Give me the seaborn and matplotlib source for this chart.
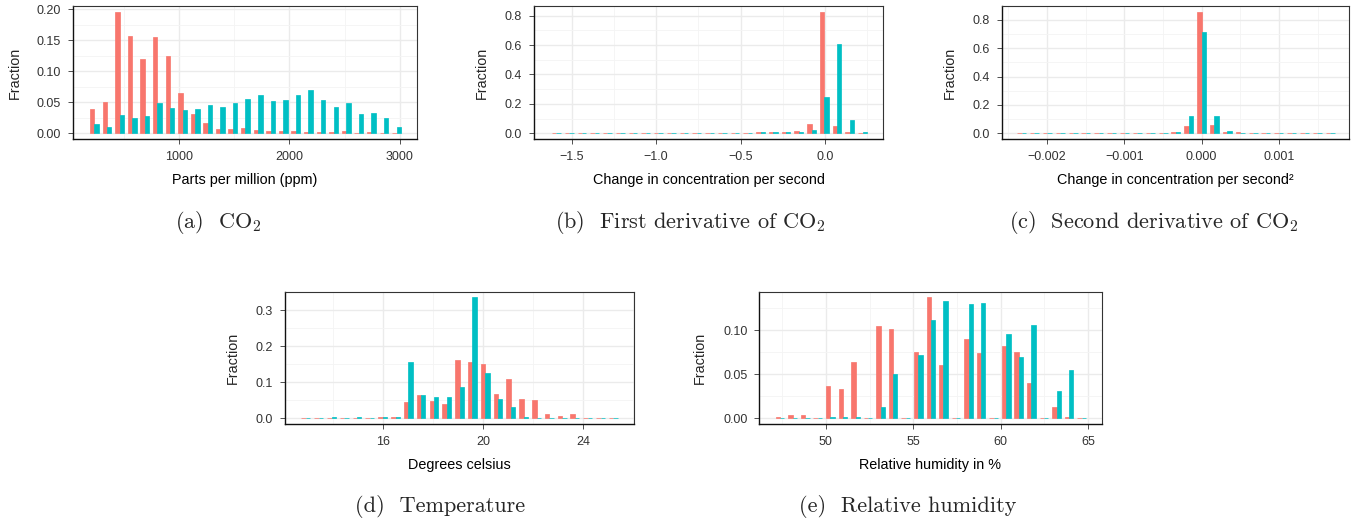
import numpy as np
import pandas as pd
import matplotlib
matplotlib.use("Agg")
import matplotlib.pyplot as plt
from matplotlib.ticker import FixedLocator, FuncFormatter
import seaborn as sns

# ---------------- data ----------------
series_names = ["Group 1", "Group 2"]
palette = ["#F8766D", "#00BFC4"]

co2_centers = [234, 348, 462, 576, 690, 804, 918, 1032, 1146, 1260, 1374, 1488, 1602,
               1716, 1830, 1944, 2058, 2172, 2286, 2400, 2514, 2628, 2742, 2856, 2970]
co2_red = [0.039, 0.050, 0.196, 0.157, 0.120, 0.155, 0.125, 0.065, 0.031, 0.017, 0.007,
           0.007, 0.008, 0.005, 0.003, 0.004, 0.004, 0.002, 0.002, 0.002, 0.004, 0.001,
           0.002, 0.001, 0.001]
co2_teal = [0.015, 0.010, 0.030, 0.025, 0.028, 0.049, 0.041, 0.038, 0.039, 0.046, 0.042,
            0.049, 0.055, 0.062, 0.052, 0.054, 0.062, 0.070, 0.054, 0.042, 0.049, 0.031,
            0.033, 0.025, 0.010]

d1_centers = [-1.590, -1.515, -1.439, -1.364, -1.288, -1.213, -1.137, -1.062, -0.986,
              -0.911, -0.835, -0.760, -0.684, -0.609, -0.533, -0.458, -0.382, -0.307,
              -0.231, -0.156, -0.080, -0.005, 0.071, 0.147, 0.222]
d1_red = [0, 0, 0, 0, 0, 0, 0, 0, 0, 0, 0, 0, 0, 0, 0, 0, 0.006, 0.008, 0.008, 0.015,
          0.063, 0.825, 0.048, 0.009, 0.002]
d1_teal = [0, 0, 0, 0, 0, 0, 0, 0, 0, 0, 0, 0, 0, 0, 0, 0, 0.006, 0.008, 0.008, 0.010,
           0.022, 0.245, 0.608, 0.091, 0.007]

d2_centers = [-0.002330, -0.002163, -0.001997, -0.001830, -0.001664, -0.001498, -0.001331,
              -0.001165, -0.000998, -0.000832, -0.000666, -0.000499, -0.000333, -0.000166,
              0.000000, 0.000166, 0.000333, 0.000499, 0.000666, 0.000832, 0.000998,
              0.001165, 0.001331, 0.001498, 0.001664]
d2_red = [0, 0, 0, 0, 0, 0, 0, 0, 0, 0, 0, 0, 0.006, 0.052, 0.854, 0.059, 0.010, 0.006,
          0, 0, 0, 0, 0, 0, 0]
d2_teal = [0, 0, 0, 0, 0, 0, 0, 0, 0, 0, 0, 0, 0.006, 0.122, 0.714, 0.122, 0.016, 0.002,
           0, 0, 0, 0, 0, 0, 0]

temp_centers = [12.90, 13.41, 13.93, 14.44, 14.95, 15.46, 15.98, 16.49, 17.00, 17.51,
                18.03, 18.54, 19.05, 19.56, 20.08, 20.59, 21.10, 21.61, 22.13, 22.64,
                23.15, 23.66, 24.18, 24.69, 25.20]
temp_red = [0, 0, 0, 0, 0, 0, 0.004, 0.004, 0.045, 0.065, 0.048, 0.040, 0.162, 0.156,
            0.151, 0.068, 0.109, 0.054, 0.051, 0.012, 0.0065, 0.012, 0, 0, 0]
temp_teal = [0, 0, 0.004, 0, 0.004, 0, 0.004, 0.004, 0.156, 0.065, 0.060, 0.060, 0.087,
             0.336, 0.126, 0.054, 0.031, 0.004, 0, 0, 0, 0, 0, 0, 0]

hum_centers = [47.39, 48.11, 48.83, 49.54, 50.26, 50.98, 51.70, 52.42, 53.13, 53.85,
               54.57, 55.29, 56.01, 56.72, 57.44, 58.16, 58.88, 59.60, 60.31, 61.03,
               61.75, 62.47, 63.19, 63.90, 64.62]
hum_red = [0.002, 0.004, 0.004, 0, 0.037, 0.033, 0.064, 0, 0.105, 0.1015, 0, 0.075,
           0.138, 0.061, 0, 0.090, 0.074, 0, 0.082, 0.075, 0.040, 0, 0.013, 0.002, 0]
hum_teal = [0, 0, 0, 0, 0.002, 0.002, 0.002, 0, 0.013, 0.050, 0, 0.072, 0.112, 0.133, 0,
            0.130, 0.131, 0, 0.096, 0.070, 0.106, 0, 0.031, 0.055, 0]

xlabels = ["Parts per million (ppm)", "Change in concentration per second",
           "Change in concentration per second\u00b2", "Degrees celsius",
           "Relative humidity in %"]
captions = [r"(a)  CO$_2$", r"(b)  First derivative of CO$_2$",
            r"(c)  Second derivative of CO$_2$", r"(d)  Temperature",
            r"(e)  Relative humidity"]

# ---------------- style ----------------
sns.set_theme(style="white")
plt.rcParams["font.family"] = ["Liberation Sans", "DejaVu Sans"]
plt.rcParams["mathtext.fontset"] = "cm"

W, H = 1363, 519
fig = plt.figure(figsize=(W / 100, H / 100), dpi=100)


def px_axes(left, right, top, bottom):
    return fig.add_axes([left / W, 1 - bottom / H, (right - left) / W, (bottom - top) / H])


panels = [
    dict(c=co2_centers, r=co2_red, t=co2_teal, box=(73, 417, 6, 139.3),
         xlim=(41, 3154), ylim=(-0.0097, 0.2054),
         xmaj=[1000, 2000, 3000], xmin=[500, 1500, 2500], xfmt="{:.0f}",
         ymaj=[0, 0.05, 0.10, 0.15, 0.20], ymin=[0.025, 0.075, 0.125, 0.175], yfmt="{:.2f}",
         ylab_x=15, cap=(218, 222)),
    dict(c=d1_centers, r=d1_red, t=d1_teal, box=(534, 883, 6, 139.3),
         xlim=(-1.723, 0.343), ylim=(-0.041, 0.866),
         xmaj=[-1.5, -1.0, -0.5, 0.0], xmin=[-1.25, -0.75, -0.25, 0.25], xfmt="{:.1f}",
         ymaj=[0, 0.2, 0.4, 0.6, 0.8], ymin=[0.1, 0.3, 0.5, 0.7], yfmt="{:.1f}",
         ylab_x=482, cap=(690, 222)),
    dict(c=d2_centers, r=d2_red, t=d2_teal, box=(1001.7, 1349.3, 6, 139.3),
         xlim=(-0.002587, 0.00191), ylim=(-0.042, 0.897),
         xmaj=[-0.002, -0.001, 0.0, 0.001], xmin=[-0.0025, -0.0015, -0.0005, 0.0005, 0.0015],
         xfmt="{:.3f}",
         ymaj=[0, 0.2, 0.4, 0.6, 0.8], ymin=[0.1, 0.3, 0.5, 0.7], yfmt="{:.1f}",
         ylab_x=950, cap=(1154, 222)),
    dict(c=temp_centers, r=temp_red, t=temp_teal, box=(285, 634.3, 291.7, 424.3),
         xlim=(12.07, 26.04), ylim=(-0.0167, 0.352),
         xmaj=[16, 20, 24], xmin=[14, 18, 22, 26], xfmt="{:.0f}",
         ymaj=[0, 0.1, 0.2, 0.3], ymin=[0.05, 0.15, 0.25], yfmt="{:.1f}",
         ylab_x=233, cap=(440, 506)),
    dict(c=hum_centers, r=hum_red, t=hum_teal, box=(759.3, 1101.7, 291.7, 424.3),
         xlim=(46.2, 65.77), ylim=(-0.0068, 0.144),
         xmaj=[50, 55, 60, 65], xmin=[47.5, 52.5, 57.5, 62.5], xfmt="{:.0f}",
         ymaj=[0, 0.05, 0.10], ymin=[0.025, 0.075, 0.125], yfmt="{:.2f}",
         ylab_x=700, cap=(908, 506)),
]

for i, p in enumerate(panels):
    ax = px_axes(*p["box"])
    df = pd.DataFrame({"center": p["c"], series_names[0]: p["r"], series_names[1]: p["t"]})
    df = df.melt(id_vars="center", var_name="series", value_name="fraction")
    sns.barplot(data=df, x="center", y="fraction", hue="series", hue_order=series_names,
                palette=palette, native_scale=True, dodge=True, width=0.7,
                errorbar=None, legend=False, ax=ax, saturation=1)
    for bar in ax.patches:
        bar.set_edgecolor(bar.get_facecolor())
        bar.set_linewidth(0.5)
    ax.set_xlim(*p["xlim"])
    ax.set_ylim(*p["ylim"])
    ax.xaxis.set_major_locator(FixedLocator(p["xmaj"]))
    ax.xaxis.set_minor_locator(FixedLocator(p["xmin"]))
    ax.yaxis.set_major_locator(FixedLocator(p["ymaj"]))
    ax.yaxis.set_minor_locator(FixedLocator(p["ymin"]))
    xf, yf = p["xfmt"], p["yfmt"]
    ax.xaxis.set_major_formatter(FuncFormatter(lambda v, pos, f=xf: f.format(v + 0.0).replace("-", "\u2212")))
    ax.yaxis.set_major_formatter(FuncFormatter(lambda v, pos, f=yf: f.format(v + 0.0)))
    ax.set_axisbelow(True)
    ax.grid(which="major", color="#EBEBEB", linewidth=1.0)
    ax.grid(which="minor", color="#F4F4F4", linewidth=0.6)
    for s in ax.spines.values():
        s.set_color("#333333")
        s.set_linewidth(0.8)
    ax.spines["left"].set_color("#111111")
    ax.spines["bottom"].set_color("#111111")
    ax.spines["left"].set_linewidth(1.0)
    ax.spines["bottom"].set_linewidth(1.0)
    ax.tick_params(which="major", direction="out", length=3.5, width=0.6, color="#333333",
                   labelsize=9, labelcolor="#333333", pad=5, bottom=True, left=True)
    ax.tick_params(which="minor", length=0)
    ax.set_xlabel(xlabels[i], fontsize=10.4, color="black", labelpad=7)
    ax.set_ylabel("")
    bx = p["box"]
    fig.text(p["ylab_x"] / W, 1 - ((bx[2] + bx[3]) / 2) / H, "Fraction", rotation=90,
             fontsize=10.4, ha="center", va="center")
    fig.text(p["cap"][0] / W, 1 - p["cap"][1] / H, captions[i], fontsize=16,
             family="cmr10", ha="center", va="center")

fig.savefig("out.png", dpi=100)
